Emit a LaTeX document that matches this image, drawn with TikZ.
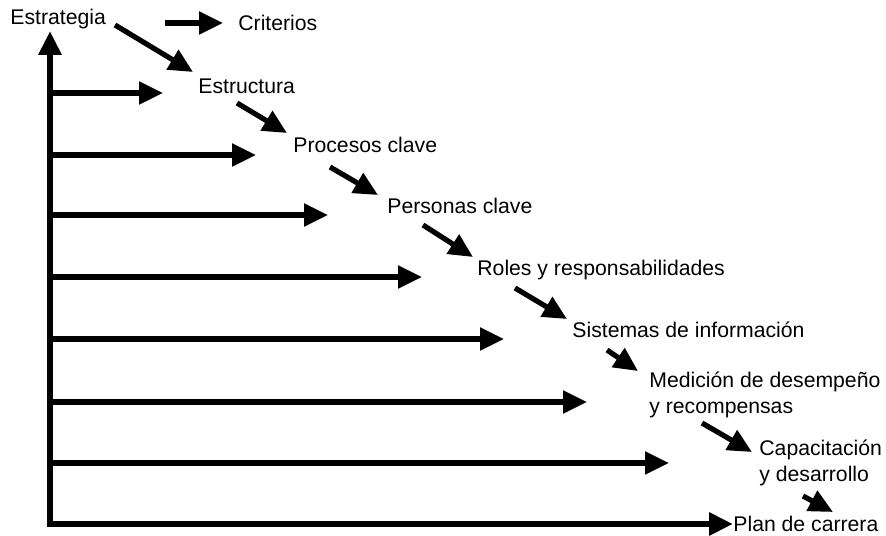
\documentclass[tikz,border=0pt]{standalone}
\usepackage{fontspec}
\setmainfont{Liberation Sans}
\usepackage{tikz}
\usetikzlibrary{arrows.meta}

\begin{document}
\begin{tikzpicture}[x=0.5pt, y=-0.5pt,
    texto/.style={inner sep=0pt, anchor=base west, align=left,
                  font=\fontsize{10.6}{13}\selectfont},
    flecha/.style={line width=2.6pt, -{Triangle[length=12pt, width=11pt]}},
    eje/.style={line width=3pt, line join=miter,
                {Triangle[length=12pt, width=11pt]}-{Triangle[length=12pt, width=11pt]}}]
              \useasboundingbox (0, 0) rectangle (886, 535);
              % etiquetas
              \node[texto] (estrategia) at (10, 25) {Estrategia};
              \node[texto] (criterios) at (238, 31) {Criterios};
              \node[texto] (estructura) at (198, 93) {Estructura};
              \node[texto] (procesos) at (293, 152) {Procesos clave};
              \node[texto] (personas) at (387, 213) {Personas clave};
              \node[texto] (roles) at (477, 275) {Roles y responsabilidades};
              \node[texto] (sistemas) at (572, 337) {Sistemas de información};
              \node[texto] (medicion) at (649, 413) {Medición de desempeño\\y recompensas};
              \node[texto] (capacitacion) at (759, 481) {Capacitación\\y desarrollo};
              \node[texto] (plan) at (733, 531) {Plan de carrera};
              % ejes
              \coordinate (arriba) at (50, 31);
              \coordinate (o) at (50, 524);
              \draw[eje] (arriba) -- (o) -- (o -| plan.base west);
              \foreach \y/\x [count=\i] in {93/163, 155/256, 215/328, 277/422, 339/504, 402/587, 463/669} {
                \coordinate (h\i) at (\x, \y);
                \draw[flecha] (o |- h\i) -- (h\i);
              }
              % cascada
              \draw[flecha] ([shift={(155, -2)}]estrategia.base west) -- ([shift={(-15, -8)}]criterios.base west);
              \draw[flecha] ([shift={(105, 0)}]estrategia.base west) -- ([shift={(-5, -21)}]estructura.base west);
              \draw[flecha] ([shift={(39, 10)}]estructura.base west) -- ([shift={(-6, -19)}]procesos.base west);
              \draw[flecha] ([shift={(37, 15)}]procesos.base west) -- ([shift={(-9, -18)}]personas.base west);
              \draw[flecha] ([shift={(36, 12)}]personas.base west) -- ([shift={(-4, -18)}]roles.base west);
              \draw[flecha] ([shift={(38, 13)}]roles.base west) -- ([shift={(-5, -18)}]sistemas.base west);
              \draw[flecha] ([shift={(35, 13)}]sistemas.base west) -- ([shift={(-11, -42)}]medicion.base west);
              \draw[flecha] ([shift={(53, 10)}]medicion.base west) -- ([shift={(-7, -29)}]capacitacion.base west);
              \draw[flecha] ([shift={(44, 15)}]capacitacion.base west) -- ([shift={(100, -19)}]plan.base west);
            \end{tikzpicture}
\end{document}
